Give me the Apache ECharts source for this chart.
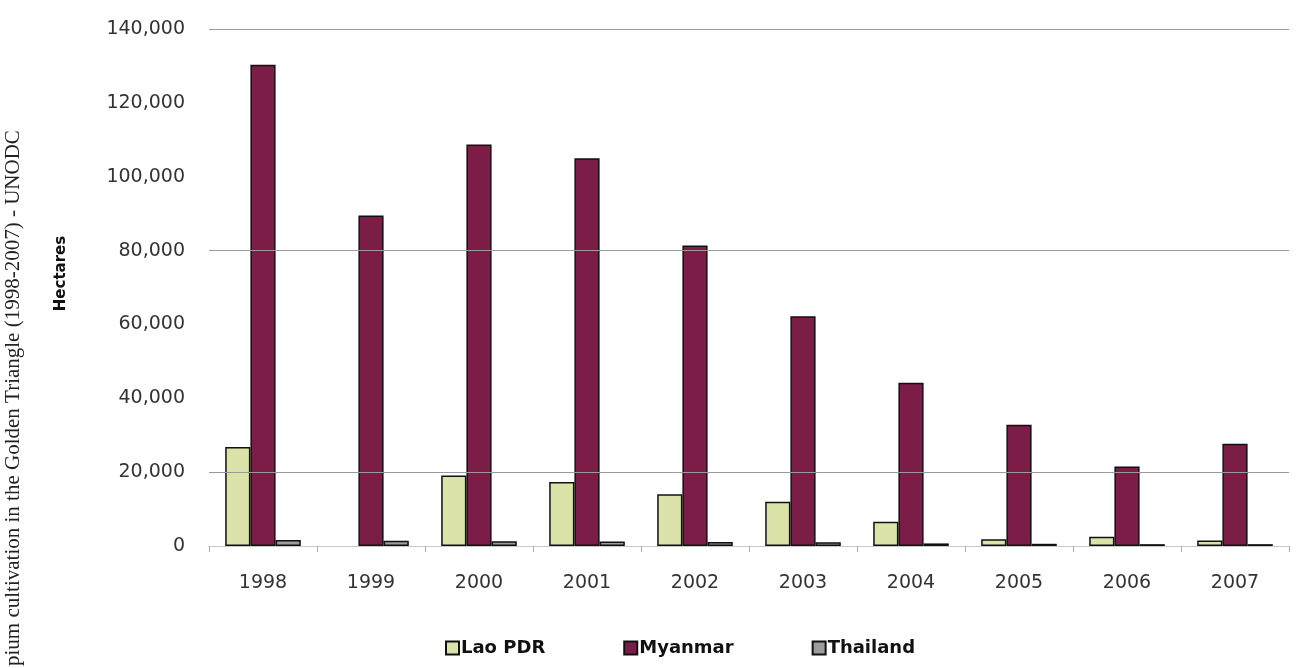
<!DOCTYPE html>
<html>
<head>
<meta charset="utf-8">
<script src="https://cdn.jsdelivr.net/npm/echarts@6/dist/echarts.min.js"></script>
<style>html,body{margin:0;padding:0;background:#fff;}#c{width:1304px;height:668px;}</style>
</head>
<body>
<div id="c"></div>
<script>
const years = ['1998','1999','2000','2001','2002','2003','2004','2005','2006','2007'];
const laoPDR = [26800, null, 19100, 17300, 14000, 12000, 6600, 1800, 2500, 1500];
const myanmar = [130300, 89500, 108700, 105000, 81400, 62200, 44200, 32800, 21500, 27700];
const thailand = [1600, 1400, 1300, 1200, 1100, 1000, 700, 600, 500, 500];
const yTicks = [0, 20000, 40000, 60000, 80000, 100000, 120000, 140000];
const gridLines = [20000, 80000, 140000];
const sideTitle = 'pium cultivation in the Golden Triangle (1998-2007) - UNODC';

const chart = echarts.init(document.getElementById('c'));
const fmt = v => v.toLocaleString('en-US');
const border = {borderColor: '#111', borderWidth: 1.5};
chart.setOption({
  animation: false,
  backgroundColor: '#fff',
  grid: {left: 209, right: 15, top: 29, bottom: 122},
  legend: {
    left: 440, top: 634, itemWidth: 13, itemHeight: 13, itemGap: 78, icon: 'rect',
    textStyle: {fontFamily: 'DejaVu Sans', fontWeight: 'bold', fontSize: 18, color: '#111', padding: [0,0,0,-3]},
    data: ['Lao PDR', 'Myanmar', 'Thailand']
  },
  xAxis: {
    type: 'category', data: years,
    axisLine: {lineStyle: {color: '#c8c8c8'}},
    axisTick: {show: true, length: 6, lineStyle: {color: '#aaa'}},
    axisLabel: {fontFamily: 'DejaVu Sans', fontSize: 19, color: '#333', margin: 28}
  },
  yAxis: {
    type: 'value', min: yTicks[0], max: yTicks[yTicks.length-1], interval: 20000,
    name: 'Hectares', nameLocation: 'middle', nameGap: 140, nameRotate: 90,
    nameTextStyle: {fontFamily: 'DejaVu Sans', fontWeight: 'bold', fontSize: 15, color: '#111', padding: [0,0,0,28]},
    axisLine: {show: false}, axisTick: {show: false},
    splitLine: {show: false},
    axisLabel: {fontFamily: 'DejaVu Sans', fontSize: 19, color: '#333', margin: 24, formatter: fmt}
  },
  graphic: [{
    type: 'text', x: 3, y: 666, rotation: Math.PI/2,
    style: {text: sideTitle, fontFamily: 'Liberation Serif', fontSize: 21, fill: '#222', textAlign: 'left', textVerticalAlign: 'top'}
  }],
  series: [
    {name: 'Lao PDR', type: 'bar', data: laoPDR, barGap: '0%', barCategoryGap: '30%',
     itemStyle: Object.assign({color: '#dbe3a8'}, border),
     markLine: {silent: true, symbol: 'none', label: {show: false},
       lineStyle: {color: '#9a9a9a', type: 'solid', width: 1},
       data: gridLines.map(v => ({yAxis: v}))}},
    {name: 'Myanmar', type: 'bar', data: myanmar, itemStyle: Object.assign({color: '#7c1d48'}, border)},
    {name: 'Thailand', type: 'bar', data: thailand, itemStyle: Object.assign({color: '#9c9c9c'}, border)}
  ]
});
</script>
</body>
</html>
